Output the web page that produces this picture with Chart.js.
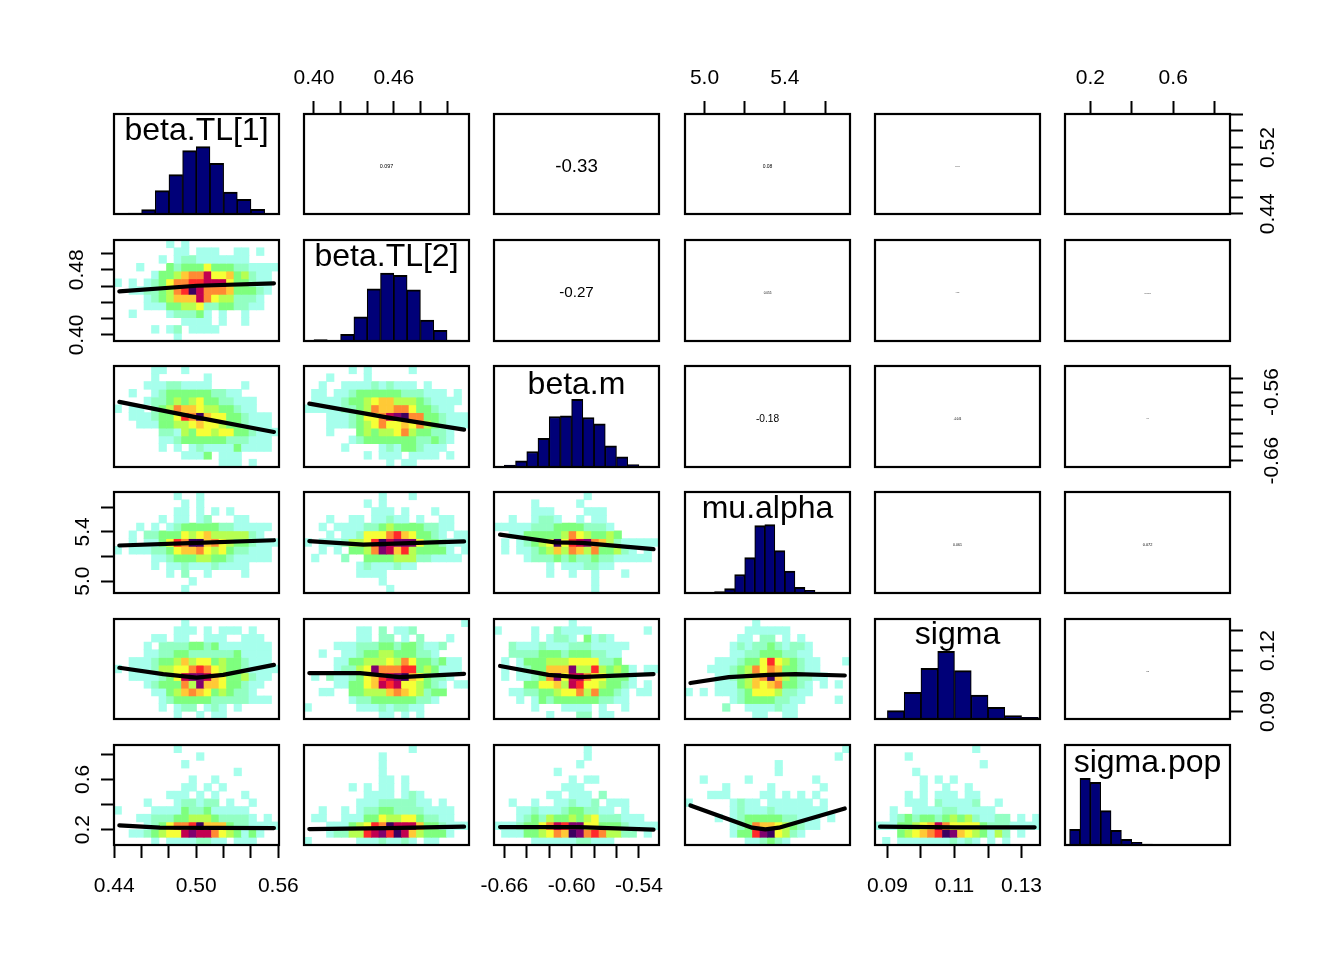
<!DOCTYPE html>
<html lang="en">
<head>
<meta charset="UTF-8">
<title>Pairs plot</title>
<script src="https://cdn.jsdelivr.net/npm/chart.js"></script>
<style>
  html, body { margin: 0; padding: 0; background: #fff; }
  #page { position: relative; width: 1344px; height: 960px; overflow: hidden; }
  canvas { position: absolute; }
</style>
</head>
<body>
<div id="page"></div>
<script>
// parameter names and axis ranges
const varNames = ["beta.TL[1]", "beta.TL[2]", "beta.m", "mu.alpha", "sigma", "sigma.pop"];
const varMin = [0.4398, 0.3925, -0.6692, 4.903, 0.0863, 0.0778];
const varMax = [0.5605, 0.5165, -0.5221, 5.724, 0.1355, 0.874];

const tick1 = [0.44, 0.46, 0.48, 0.50, 0.52, 0.54, 0.56];
const tick2 = [0.40, 0.42, 0.44, 0.46, 0.48, 0.50];
const tick3 = [-0.66, -0.64, -0.62, -0.60, -0.58, -0.56, -0.54];
const tick4 = [5.0, 5.2, 5.4, 5.6];
const tick5 = [0.09, 0.10, 0.11, 0.12, 0.13];
const tick6 = [0.2, 0.4, 0.6, 0.8];
const allTicks = [tick1, tick2, tick3, tick4, tick5, tick6];

const xLabels = [["0.44", "0.50", "0.56"], ["0.40", "0.46"], ["-0.66", "-0.60", "-0.54"], ["5.0", "5.4"], ["0.09", "0.11", "0.13"], ["0.2", "0.6"]];
const yLabels = [["0.44", "0.52"], ["0.40", "0.48"], ["-0.66", "-0.56"], ["5.0", "5.4"], ["0.09", "0.12"], ["0.2", "0.6"]];

// histograms: bin edges and bar heights (ylim is 0..300 on this scale)
const hist1Edges = [0.44, 0.45, 0.46, 0.47, 0.48, 0.49, 0.50, 0.51, 0.52, 0.53, 0.54, 0.55, 0.56];
const hist1Bars = [1, 3, 13, 70, 118, 190, 202, 152, 66, 44, 14, 2];
const hist2Edges = [0.39, 0.40, 0.41, 0.42, 0.43, 0.44, 0.45, 0.46, 0.47, 0.48, 0.49, 0.50, 0.51, 0.52];
const hist2Bars = [1, 4, 2, 20, 72, 155, 202, 195, 152, 62, 32, 3, 1];
const hist3Edges = [-0.67, -0.66, -0.65, -0.64, -0.63, -0.62, -0.61, -0.60, -0.59, -0.58, -0.57, -0.56, -0.55, -0.54, -0.53, -0.52];
const hist3Bars = [1, 6, 18, 46, 85, 150, 152, 201, 147, 128, 63, 30, 7, 3, 1];
const hist4Edges = [4.90, 4.95, 5.00, 5.05, 5.10, 5.15, 5.20, 5.25, 5.30, 5.35, 5.40, 5.45, 5.50, 5.55, 5.60, 5.65, 5.70];
const hist4Bars = [0, 0, 1, 4, 13, 55, 105, 200, 203, 126, 65, 17, 8, 1, 1, 1];
const hist5Edges = [0.085, 0.09, 0.095, 0.10, 0.105, 0.11, 0.115, 0.12, 0.125, 0.13, 0.135];
const hist5Bars = [2, 25, 80, 152, 203, 145, 72, 35, 10, 5];
const hist6Edges = [0.10, 0.15, 0.20, 0.25, 0.30, 0.35, 0.40, 0.45, 0.50, 0.55, 0.60, 0.65, 0.70, 0.75, 0.80, 0.85];
const hist6Bars = [47, 200, 188, 103, 44, 17, 8, 3, 1, 1, 1, 1, 1, 1, 1];

// correlation text in the upper panels, "row,col"
const corText = {
  "1,2": "0.097", "1,3": "-0.33", "1,4": "0.08", "1,5": "0.04", "1,6": "0.01",
  "2,3": "-0.27", "2,4": "0.055", "2,5": "0.024", "2,6": "0.048",
  "3,4": "-0.18", "3,5": "-0.046", "3,6": "0.02",
  "4,5": "0.061", "4,6": "0.072",
  "5,6": "0.021"
};
const corSize = {
  "1,2": 5.4, "1,3": 18.7, "1,4": 5, "1,5": 2.4, "1,6": 0.6,
  "2,3": 15.2, "2,4": 3.1, "2,5": 1.4, "2,6": 2.4,
  "3,4": 10.2, "3,5": 2.6, "3,6": 1.1,
  "4,5": 3.5, "4,6": 3.9,
  "5,6": 1.2
};

// 2d histogram levels, 22 columns x 13 rows, top row first
const heat21 = [
  ".......1.1............",
  "........11.111..11.1..",
  "......1.1221111111....",
  "...1...323335333221111",
  ".....1334677955634211.",
  "1.1.12357788999533211.",
  "..11223478b9777633321.",
  "....1234666975442221..",
  "....1113344522332211..",
  "..1....122231.1..1....",
  ".........1111.1..1....",
  ".....1.12.1111........",
  "........1............."
];
const heat31 = [
  ".....11..1............",
  ".....1......1.........",
  "....111221111....1....",
  "..1..123333332211.....",
  "....122343453322111...",
  "1.11.23476654433211...",
  "..111233587b655332111.",
  "...111334456554332111.",
  "......2214355455332111",
  "......112333333222111.",
  "......1.1.12111131111.",
  ".........1113.111.....",
  "..............111.1..."
];
const heat32 = [
  "......1.1.....1.......",
  "...1....1.............",
  "..1..1111212111.1.....",
  ".11.112333333222111.1.",
  ".11112334566444321111.",
  "11111223476677533211..",
  "...111235579ab77332111",
  "...1112345755657432111",
  "...1...3434457433221..",
  "......12333333322321..",
  ".....1....121332111...",
  "........1.111.1111.1..",
  "...........1.11......."
];
const heat41 = [
  "........1..1..........",
  ".........1.1..........",
  "........11.1.1.1......",
  "......1.11.12...11....",
  "...1.1.12333332211111.",
  "..1.2233354564444421..",
  "..1.113587bb6754332111",
  "1.1112235667545322111.",
  ".....1123334433211111.",
  ".....1.11211121111....",
  ".......1.2..1....1....",
  "..........1...........",
  ".........1............"
];
const heat42 = [
  "..........1...1.......",
  "........1.1...........",
  ".........111.1...1....",
  "...1..11.11211.1..11..",
  "..1.1111223433332211..",
  "...1.11255578653321.11",
  "1.11124458b9aaa5332111",
  "..1.1.3347a968433331.1",
  ".1...2..3333444221111.",
  ".......12111211.......",
  ".......1111...........",
  "..........1...........",
  "...........1.........."
];
const heat43 = [
  "............1.........",
  ".....1.....1..........",
  ".....111....111.......",
  "..1..1221..1.11.......",
  "1111122233332221......",
  "..113333347543343.....",
  ".1.12345b589a764211111",
  ".1.1123464764733421.1.",
  "....12223232232211111.",
  ".......1.1112211......",
  ".......1..1..1...1....",
  ".............1........",
  ".............1........"
];
const heat51 = [
  ".........1............",
  "........111.1.111.1...",
  ".....11.11..111..111..",
  "....1.222233231111111.",
  "....11223322222231111.",
  "..1112334645534332111.",
  "1.11124455787543321111",
  "..11112359aa965334211.",
  "....1233374a66533211..",
  ".....11346765343221...",
  "......123333322222111.",
  "......1.122.121.1.....",
  "........1..1.11......."
];
const heat52 = [
  ".....................1",
  ".......11.2.112.......",
  ".......11.22.1.2...1..",
  "....111222332332112...",
  "..1..1123344333221....",
  "....11334445475332311.",
  "....12245a77788343111.",
  ".1.211235689ab653221..",
  "....113356989554321.11",
  "..11..3344467654233...",
  "......122333333221....",
  "1......111212211......",
  "..........11.1.1......"
];
const heat53 = [
  "..........1...........",
  "1....1..21111.......1.",
  ".....1.1221.3121......",
  "..2111211122211111....",
  "..222233323332211.....",
  ".1.13334445555223.....",
  ".1.1233666a44843431.11",
  ".1.11237a5997553331...",
  "....335564985543321.1.",
  "..1122334557473321.11.",
  "...1.1323333332211....",
  ".....1...1111.1..1....",
  ".......1...22.11......"
];
const heat54 = [
  ".........1............",
  "........111111........",
  ".......11.22.1.1......",
  "......12122321221.....",
  "......11223332211.....",
  "....11123358543211...1",
  "...111234757633211....",
  "....1123467b6432211...",
  "....1113465673321.1.1.",
  "1.1.1112355542211.....",
  "......1233332211....1.",
  ".....2..1111211.......",
  ".........11..11......."
];
const heat61 = [
  "........1.............",
  "...........1..........",
  ".........1............",
  "................1.....",
  "..........1..1........",
  ".........11.1.1.......",
  ".......111.1.1...1....",
  "....1...122122.1..1...",
  "1....1111322311111....",
  "...1122233444322221.1.",
  "....1235778b6663221111",
  "..11234559a997543131..",
  ".....1.11112211.111..."
];
const heat62 = [
  "..............1.......",
  "..........1...........",
  "..........1...........",
  "..........1...........",
  "..........11.1........",
  "......1.1.11.1........",
  "........1111.121......",
  ".......1112222211.1...",
  "..1..1.1223322221111..",
  ".11..111335445532211..",
  "...11134587b9996332111",
  "...1224489a8b9643331..",
  "1......11121121.11...."
];
const heat63 = [
  "............1.........",
  "............1.........",
  "...........1..........",
  "........1.............",
  "..........1.11........",
  ".........111..........",
  ".......11.111.2.......",
  "..1..1..112112.111....",
  "...1121112332211.1....",
  "...12324334345222111..",
  "1112335798aa5533321111",
  ".111334576ba7874422.1.",
  ".....11111122111......"
];
const heat64 = [
  ".....................1",
  "....................1.",
  "............1.........",
  "............1.........",
  "..1.....1........1....",
  ".....1.....1......1...",
  "...111....11.1.1.1....",
  "1.....1211.111111.1...",
  "......1211121111111...",
  "....1.123333322111.1..",
  "......123766543211....",
  "......1338ab5421......",
  "........112321........"
];
const heat65 = [
  ".............1........",
  "....1.................",
  "..............1.......",
  ".....1................",
  "......1.1.1...........",
  "......1..1..1.........",
  "....1.1.111.11........",
  "....111.211112..1.....",
  "..1..11112211111......",
  "..1232332343421122.1.1",
  "1113345697555532221111",
  "...345678ba6543142.1..",
  ".1.11111112121.1.1...."
];

// smooth lines through the lower panels
const line21X = [0.4437, 0.5003, 0.5568], line21Y = [0.4535, 0.4603, 0.4633];
const line31X = [0.4437, 0.5003, 0.5568], line31Y = [-0.5744, -0.5969, -0.6182];
const line32X = [0.3965, 0.4547, 0.5128], line32Y = [-0.5769, -0.5969, -0.6148];
const line41X = [0.4437, 0.5003, 0.5568], line41Y = [5.289, 5.311, 5.332];
const line42X = [0.3965, 0.4371, 0.4547, 0.5128], line42Y = [5.324, 5.297, 5.303, 5.322];
const line43X = [-0.6638, -0.6147, -0.5909, -0.527], line43Y = [5.378, 5.314, 5.311, 5.259];
const line51X = [0.4437, 0.4758, 0.5003, 0.5197, 0.5568], line51Y = [0.1115, 0.1084, 0.1067, 0.108, 0.1129];
const line52X = [0.3965, 0.4346, 0.4644, 0.5128], line52Y = [0.1089, 0.1089, 0.1069, 0.1085];
const line53X = [-0.6638, -0.6207, -0.5939, -0.527], line53Y = [0.1124, 0.108, 0.1069, 0.1084];
const line54X = [4.93, 5.121, 5.32, 5.453, 5.698], line54Y = [0.104, 0.1069, 0.108, 0.1084, 0.1077];
const line61X = [0.4437, 0.4734, 0.5568], line61Y = [0.234, 0.2158, 0.2126];
const line62X = [0.3965, 0.4547, 0.5128], line62Y = [0.2047, 0.2126, 0.2237];
const line63X = [-0.6638, -0.5939, -0.527], line63Y = [0.2206, 0.2206, 0.2];
const line64X = [4.93, 5.237, 5.303, 5.37, 5.698], line64Y = [0.3921, 0.2158, 0.2024, 0.2158, 0.3684];
const line65X = [0.0878, 0.1102, 0.1339], line65Y = [0.2237, 0.2182, 0.2182];

const heatColors = { 1: "#a6ffec", 2: "#93ffc3", 3: "#7eff7e", 4: "#b6ff52", 5: "#f6ff36", 6: "#ffc936",
  7: "#ff8a33", 8: "#ff2a2a", 9: "#c20050", a: "#80006e", b: "#3c0060" };

const heatTable = { "2,1": [heat21, line21X, line21Y], "3,1": [heat31, line31X, line31Y], "3,2": [heat32, line32X, line32Y],
  "4,1": [heat41, line41X, line41Y], "4,2": [heat42, line42X, line42Y], "4,3": [heat43, line43X, line43Y],
  "5,1": [heat51, line51X, line51Y], "5,2": [heat52, line52X, line52Y], "5,3": [heat53, line53X, line53Y], "5,4": [heat54, line54X, line54Y],
  "6,1": [heat61, line61X, line61Y], "6,2": [heat62, line62X, line62Y], "6,3": [heat63, line63X, line63Y], "6,4": [heat64, line64X, line64Y], "6,5": [heat65, line65X, line65Y] };
const histTable = [[hist1Edges, hist1Bars], [hist2Edges, hist2Bars], [hist3Edges, hist3Bars], [hist4Edges, hist4Bars], [hist5Edges, hist5Bars], [hist6Edges, hist6Bars]];

const colLeft = [114, 304, 494, 685, 875, 1065];
const rowTop = [114, 240, 366, 492, 619, 745];
const rowH = [100, 101, 101, 101, 100, 100];
const panelW = 165;
const M = 70;
const diagY = [17, 17, 19, 17, 16, 18];
const FONT = "'Liberation Sans', Arial, sans-serif";

// box and text on top of each panel
const panelDecor = {
  id: "panelDecor",
  afterDatasetsDraw(chart, args, opts) {
    const a = chart.chartArea, ctx = chart.ctx;
    ctx.save();
    ctx.strokeStyle = "#000";
    ctx.lineWidth = 2.2;
    ctx.strokeRect(a.left, a.top, a.right - a.left, a.bottom - a.top);
    if (opts.text) {
      ctx.fillStyle = "#000";
      ctx.font = opts.size + "px " + FONT;
      ctx.textAlign = "center";
      ctx.textBaseline = "middle";
      const y = opts.diag ? a.top + opts.diagOffset : (a.top + a.bottom) / 2 + 2.5;
      ctx.fillText(opts.text, (a.left + a.right) / 2, y);
    }
    ctx.restore();
  }
};

function tickLabelCb(labels) {
  return v => labels.find(l => Math.abs(+l - v) < 1e-9) || "";
}

function axisScale(i, position, shown) {
  const horiz = position === "top" || position === "bottom";
  const scale = {
    type: "linear", min: varMin[i], max: varMax[i], offset: false, position,
    display: shown, beginAtZero: false,
    grid: { display: true, offset: false, drawOnChartArea: false, drawTicks: true, tickLength: 13, tickWidth: 2, tickColor: "#000" },
    border: { display: false }
  };
  if (shown) {
    scale.afterBuildTicks = s => { s.ticks = allTicks[i].map(v => ({ value: v })); };
    scale.afterFit = s => { if (horiz) s.height = M; else s.width = M; };
    scale.ticks = {
      autoSkip: false, color: "#000", font: { family: FONT, size: 21 },
      callback: tickLabelCb(horiz ? xLabels[i] : yLabels[i])
    };
    if (horiz) {
      scale.ticks.maxRotation = 0;
      scale.ticks.minRotation = 0;
      scale.ticks.padding = position === "top" ? 10 : 16;
    } else {
      scale.ticks.minRotation = 90;
      scale.ticks.maxRotation = 90;
      scale.ticks.crossAlign = "center";
      scale.ticks.padding = position === "left" ? 3 : 5;
    }
  }
  return scale;
}

function heatDatasets(grid) {
  return grid.map((row, r) => {
    const data = [], colors = [];
    for (let c = 0; c < 22; c++) {
      const lv = row[c];
      data.push(lv && lv !== "." ? [12 - r, 13 - r] : null);
      colors.push(heatColors[lv] || "rgba(0,0,0,0)");
    }
    return { type: "bar", xAxisID: "cx", yAxisID: "cy", data, backgroundColor: colors, borderWidth: 0,
      barPercentage: 1, categoryPercentage: 1, grouped: false, order: 1 };
  });
}

function makePanel(r, c) {
  const key = r + "," + c;
  const datasets = [];
  const deco = {};

  if (r === c) {
    const [edges, bars] = histTable[r - 1];
    datasets.push({
      type: "bar", xAxisID: "x", yAxisID: "hy",
      data: bars.map((b, i) => ({ x: (edges[i] + edges[i + 1]) / 2, y: b })),
      backgroundColor: "#000078", borderColor: "#000",
      borderWidth: { top: 2, left: 1.2, right: 1.2, bottom: 0 }, borderSkipped: false,
      barPercentage: 1, categoryPercentage: 1, grouped: false
    });
    deco.text = varNames[r - 1];
    deco.size = 32;
    deco.diag = true;
    deco.diagOffset = diagY[r - 1];
  } else if (r > c) {
    const [grid, lx, ly] = heatTable[key];
    datasets.push(...heatDatasets(grid));
    datasets.push({ type: "line", xAxisID: "x", yAxisID: "y", order: 0,
      data: lx.map((v, i) => ({ x: v, y: ly[i] })),
      borderColor: "#000", borderWidth: 4.2, pointRadius: 0, tension: 0, fill: false,
      borderCapStyle: "round", borderJoinStyle: "round" });
  } else {
    deco.text = corText[key];
    deco.size = corSize[key];
  }

  const hasTop = r === 1 && c % 2 === 0;
  const hasBottom = r === 6 && c % 2 === 1;
  const hasLeft = c === 1 && r % 2 === 0;
  const hasRight = c === 6 && r % 2 === 1;

  const xPos = hasTop ? "top" : "bottom";
  const yPos = hasRight ? "right" : "left";

  const scales = {
    x: axisScale(c - 1, xPos, hasTop || hasBottom),
    y: axisScale(r - 1, yPos, hasLeft || hasRight),
    hy: { axis: "y", type: "linear", min: 0, max: 300, display: false, offset: false, grid: { offset: false } },
    cx: { axis: "x", type: "category", labels: Array.from({ length: 22 }, (_, i) => i), offset: true, display: false, grid: { offset: true } },
    cy: { axis: "y", type: "linear", min: 0, max: 13, display: false, offset: false, grid: { offset: false } }
  };

  const cv = document.createElement("canvas");
  const w = panelW + 2 * M, h = rowH[r - 1] + 2 * M;
  cv.width = w;
  cv.height = h;
  cv.style.left = (colLeft[c - 1] - M) + "px";
  cv.style.top = (rowTop[r - 1] - M) + "px";
  cv.style.width = w + "px";
  cv.style.height = h + "px";
  document.getElementById("page").appendChild(cv);

  new Chart(cv, {
    type: "bar",
    data: { labels: Array.from({ length: 22 }, (_, i) => i), datasets },
    plugins: [panelDecor],
    options: {
      responsive: false,
      animation: false,
      devicePixelRatio: 1,
      layout: { padding: {
        left: hasLeft ? 0 : M, right: hasRight ? 0 : M,
        top: hasTop ? 0 : M, bottom: hasBottom ? 0 : M } },
      plugins: { legend: { display: false }, tooltip: { enabled: false }, title: { display: false }, panelDecor: deco },
      scales
    }
  });
}

for (let r = 1; r <= 6; r++) {
  for (let c = 1; c <= 6; c++) makePanel(r, c);
}
</script>
</body>
</html>
